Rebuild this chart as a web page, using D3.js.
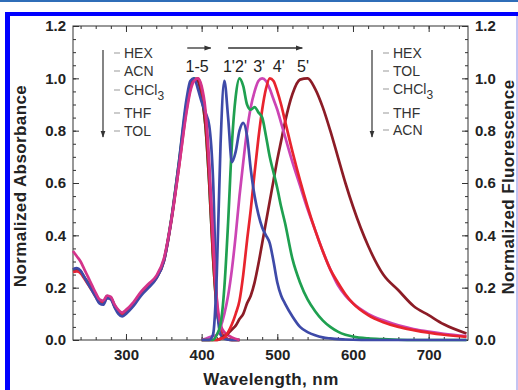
<!DOCTYPE html>
<html>
<head>
<meta charset="utf-8">
<script src="https://cdn.jsdelivr.net/npm/d3@7"></script>
<style>
  body { margin: 0; background: #fff; }
  svg { display: block; font-family: "Liberation Sans", Arial, sans-serif; }
  .tick text { font-weight: bold; font-size: 15px; fill: #222; }
  .tick line { stroke: #333; }
  .title { font-weight: bold; font-size: 17px; fill: #222; letter-spacing: 0.4px; }
  .leg { font-size: 14px; fill: #333; }
  .peak { font-size: 16px; fill: #222; }
</style>
</head>
<body>
<svg width="518" height="390"></svg>
<script>
// absorbance spectra, one wavelength grid
const absWl = [230,235,240,245,250,255,260,265,270,275,280,285,290,295,300,310,320,330,340,350,360,370,380,385,390,395,400,405,410,415,420,425,430,440,450];
const absHEX  = [0.27,0.275,0.265,0.24,0.215,0.19,0.165,0.14,0.135,0.16,0.155,0.125,0.1,0.09,0.1,0.13,0.17,0.2,0.235,0.3,0.46,0.68,0.92,0.99,1.0,0.96,0.91,0.87,0.82,0.62,0.15,0.02,0.005,0,0];
const absACN  = [0.27,0.272,0.262,0.238,0.218,0.198,0.172,0.148,0.142,0.165,0.16,0.13,0.108,0.098,0.105,0.135,0.175,0.205,0.238,0.3,0.46,0.67,0.89,0.96,0.995,0.99,0.93,0.82,0.6,0.32,0.12,0.04,0.01,0,0];
const absCHCl3 = [0.265,0.27,0.262,0.24,0.22,0.2,0.175,0.15,0.145,0.168,0.162,0.132,0.112,0.102,0.108,0.14,0.18,0.21,0.24,0.305,0.465,0.68,0.9,0.97,1.0,0.99,0.93,0.82,0.6,0.32,0.12,0.04,0.01,0,0];
const absTHF  = [0.26,0.262,0.255,0.235,0.212,0.19,0.165,0.145,0.14,0.162,0.158,0.128,0.108,0.1,0.106,0.136,0.176,0.206,0.236,0.3,0.455,0.66,0.88,0.96,0.995,1.0,0.96,0.86,0.64,0.35,0.13,0.04,0.01,0,0];
const absTOL  = [0.34,0.32,0.3,0.27,0.24,0.21,0.18,0.155,0.15,0.17,0.165,0.135,0.115,0.105,0.115,0.145,0.185,0.215,0.245,0.31,0.46,0.66,0.87,0.95,0.99,1.0,0.97,0.88,0.68,0.4,0.16,0.06,0.03,0.01,0];

// fluorescence spectra, one wavelength grid
const emWl = [400,410,415,420,425,430,435,440,445,450,455,460,465,470,475,480,485,490,495,500,505,510,520,530,540,550,560,570,580,590,600,620,640,660,680,700,720,750];
const em1 = [0,0,0.02,0.25,0.75,0.99,0.85,0.68,0.72,0.8,0.83,0.78,0.65,0.55,0.48,0.43,0.4,0.37,0.3,0.22,0.17,0.14,0.09,0.05,0.03,0.018,0.01,0.006,0.003,0.002,0.001,0,0,0,0,0,0,0];
const em2 = [0,0,0,0.02,0.06,0.2,0.45,0.75,0.93,1.0,0.97,0.9,0.88,0.89,0.87,0.85,0.78,0.7,0.64,0.58,0.51,0.45,0.31,0.22,0.155,0.11,0.075,0.05,0.032,0.02,0.013,0.006,0.003,0.001,0,0,0,0];
const em3 = [0,0.01,0.015,0.02,0.05,0.1,0.17,0.27,0.4,0.55,0.68,0.8,0.89,0.95,0.99,1.0,0.99,0.96,0.92,0.88,0.83,0.78,0.68,0.59,0.5,0.42,0.34,0.27,0.21,0.17,0.14,0.1,0.075,0.056,0.042,0.032,0.024,0.015];
const em4 = [0,0,0,0,0.005,0.01,0.03,0.06,0.1,0.15,0.25,0.38,0.5,0.64,0.77,0.88,0.96,1.0,0.99,0.95,0.9,0.84,0.72,0.61,0.51,0.42,0.34,0.27,0.22,0.175,0.14,0.095,0.068,0.05,0.038,0.028,0.02,0.012];
const em5 = [0,0,0,0,0.005,0.015,0.025,0.04,0.055,0.08,0.1,0.14,0.17,0.22,0.29,0.37,0.45,0.53,0.61,0.69,0.76,0.83,0.94,0.995,1.0,0.96,0.89,0.8,0.7,0.6,0.51,0.36,0.25,0.19,0.13,0.095,0.06,0.025];

const absLegend = ['HEX', 'ACN', 'CHCl3', 'THF', 'TOL'];
const emLegend = ['HEX', 'TOL', 'CHCl3', 'THF', 'ACN'];
const peakLabels = ['1-5', "1'", "2'", "3'", "4'", "5'"];
const peakLabelWl = [394, 436, 452, 476, 502, 534];
const arrowWl = [[381, 412], [435, 533]];

const xTicks = [300, 400, 500, 600, 700];
const yTicks = [0, 0.2, 0.4, 0.6, 0.8, 1.0, 1.2];

const svg = d3.select('svg');

// page frame
svg.append('rect').attr('x', 0).attr('y', 0).attr('width', 518).attr('height', 2).attr('fill', '#2f6db8');
svg.append('rect').attr('x', 5).attr('y', 12).attr('width', 513).attr('height', 4).attr('fill', '#0000ff');
svg.append('rect').attr('x', 5).attr('y', 12).attr('width', 5).attr('height', 378).attr('fill', '#0000ff');
svg.append('rect').attr('x', 516).attr('y', 16).attr('width', 2).attr('height', 374).attr('fill', '#c4c4f2');

const pLeft = 73, pRight = 468, pTop = 26, pBottom = 340;

const x = d3.scaleLinear().domain([230, 752]).range([pLeft, pRight]);
const y = d3.scaleLinear().domain([0, 1.2]).range([pBottom, pTop]);

const minorX = d3.range(240, 752, 20);
const minorY = d3.range(0, 1.2001, 0.05);

// ticks, all pointing inward
svg.append('g').attr('transform', `translate(0,${pBottom})`)
  .call(d3.axisBottom(x).tickValues(minorX).tickSize(-3).tickFormat(''));
svg.append('g').attr('transform', `translate(0,${pBottom})`)
  .call(d3.axisBottom(x).tickValues(xTicks).tickSize(-6).tickPadding(9).tickFormat(d3.format('d')));
svg.append('g').attr('transform', `translate(0,${pTop})`)
  .call(d3.axisTop(x).tickValues(minorX).tickSize(-3).tickFormat(''));
svg.append('g').attr('transform', `translate(0,${pTop})`)
  .call(d3.axisTop(x).tickValues(xTicks).tickSize(-6).tickFormat(''));

svg.append('g').attr('transform', `translate(${pLeft},0)`)
  .call(d3.axisLeft(y).tickValues(minorY).tickSize(-3).tickFormat(''));
svg.append('g').attr('transform', `translate(${pLeft},0)`)
  .call(d3.axisLeft(y).tickValues(yTicks).tickSize(-6).tickPadding(7).tickFormat(d3.format('.1f')));
svg.append('g').attr('transform', `translate(${pRight},0)`)
  .call(d3.axisRight(y).tickValues(minorY).tickSize(-3).tickFormat(''));
svg.append('g').attr('transform', `translate(${pRight},0)`)
  .call(d3.axisRight(y).tickValues(yTicks).tickSize(-6).tickPadding(7).tickFormat(d3.format('.1f')));

svg.selectAll('.domain').remove();

svg.append('rect')
  .attr('x', pLeft).attr('y', pTop)
  .attr('width', pRight - pLeft).attr('height', pBottom - pTop)
  .attr('fill', 'none').attr('stroke', '#333').attr('stroke-width', 1);

// spectra
const plot = svg.append('g');
const line = (wl) => d3.line()
  .x((d, i) => x(wl[i]))
  .y((d) => y(d))
  .curve(d3.curveMonotoneX);

const absSeries = [
  { v: absCHCl3, c: '#1fa050' },
  { v: absACN, c: '#8c1c26' },
  { v: absTHF, c: '#e3263a' },
  { v: absHEX, c: '#3e4aa8' },
  { v: absTOL, c: '#d4338a' }
];
const emSeries = [
  { v: em5, c: '#8c1c26' },
  { v: em3, c: '#cc44b4' },
  { v: em4, c: '#e8242e' },
  { v: em2, c: '#1fa050' },
  { v: em1, c: '#3e4aa8' }
];

absSeries.forEach((s) => {
  plot.append('path').datum(s.v)
    .attr('d', line(absWl))
    .attr('fill', 'none').attr('stroke', s.c).attr('stroke-width', 2.7)
    .attr('stroke-linejoin', 'round');
});
emSeries.forEach((s) => {
  plot.append('path').datum(s.v)
    .attr('d', line(emWl))
    .attr('fill', 'none').attr('stroke', s.c).attr('stroke-width', 2.7)
    .attr('stroke-linejoin', 'round');
});

// arrow marker
const defs = svg.append('defs');
defs.append('marker')
  .attr('id', 'arr').attr('viewBox', '0 0 10 10')
  .attr('refX', 9).attr('refY', 5)
  .attr('markerWidth', 7).attr('markerHeight', 7)
  .attr('markerUnits', 'userSpaceOnUse')
  .attr('orient', 'auto')
  .append('path').attr('d', 'M0,1.5 L10,5 L0,8.5 Z').attr('fill', '#333');

// peak annotations
arrowWl.forEach((a) => {
  svg.append('line')
    .attr('x1', x(a[0])).attr('x2', x(a[1]))
    .attr('y1', 48).attr('y2', 48)
    .attr('stroke', '#333').attr('stroke-width', 1.3)
    .attr('marker-end', 'url(#arr)');
});
svg.selectAll('.peak').data(peakLabels).enter()
  .append('text').attr('class', 'peak')
  .attr('x', (d, i) => x(peakLabelWl[i]))
  .attr('y', 72)
  .attr('text-anchor', 'middle')
  .text((d) => d);

// legends
function legend(items, ax, tx, ys) {
  svg.append('line')
    .attr('x1', ax).attr('x2', ax).attr('y1', 50).attr('y2', 137)
    .attr('stroke', '#333').attr('stroke-width', 1.2)
    .attr('marker-end', 'url(#arr)');
  items.forEach((name, i) => {
    svg.append('line')
      .attr('x1', tx - 10).attr('x2', tx - 4)
      .attr('y1', ys[i]).attr('y2', ys[i])
      .attr('stroke', '#999').attr('stroke-width', 1);
    const t = svg.append('text').attr('class', 'leg')
      .attr('x', tx).attr('y', ys[i] + 5);
    if (name === 'CHCl3') {
      t.append('tspan').text('CHCl');
      t.append('tspan').attr('dy', 5).attr('font-size', 12).text('3');
    } else {
      t.text(name);
    }
  });
}
legend(absLegend, 103, 124, [53, 71, 90, 113, 131]);
legend(emLegend, 372, 393, [53, 71, 89, 113, 130]);

// axis titles
svg.append('text').attr('class', 'title')
  .attr('x', 271).attr('y', 385)
  .attr('text-anchor', 'middle')
  .text('Wavelength, nm');
svg.append('text').attr('class', 'title')
  .attr('transform', 'translate(26,186) rotate(-90)')
  .attr('text-anchor', 'middle')
  .text('Normalized Absorbance');
svg.append('text').attr('class', 'title')
  .attr('font-size', 16)
  .attr('transform', 'translate(514,187) rotate(-90)')
  .attr('text-anchor', 'middle')
  .text('Normalized Fluorescence');
</script>
</body>
</html>
